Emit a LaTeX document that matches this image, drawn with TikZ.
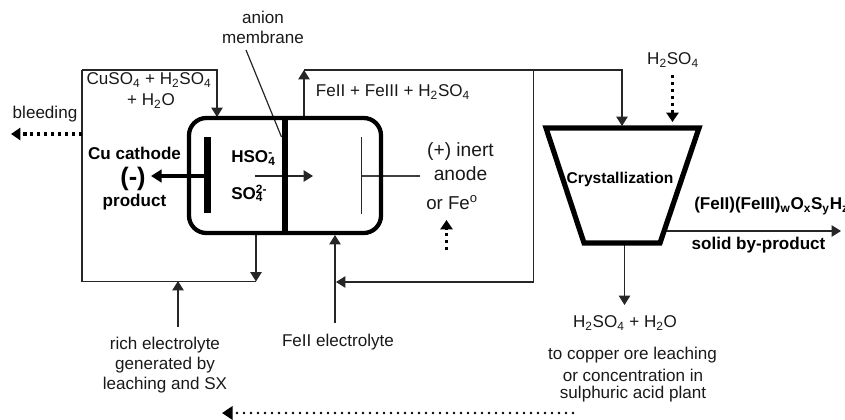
\documentclass[tikz,border=0pt]{standalone}
\usepackage{fontspec}
\setmainfont{Liberation Sans}
\usetikzlibrary{arrows.meta}
\newcommand{\subs}[1]{\textsubscript{#1}}
\newcommand{\ion}[3]{#1\rlap{\textsuperscript{#2}}\subs{#3}}
\tikzset{
  x=0.75pt,y=-0.75pt,
  lab/.style={font=\fontsize{12.8}{15.2}\selectfont,align=center,inner sep=0pt,text=black!90},
  biglab/.style={font=\fontsize{14.4}{16}\selectfont,align=center,inner sep=0pt,text=black!90},
  blab/.style={font=\fontsize{12.8}{15.2}\selectfont\bfseries,align=center,inner sep=0pt},
  flow/.style={draw=black!85,line width=0.9pt,-{Triangle[length=7pt,width=8.5pt]}},
  pipe/.style={draw=black!85,line width=0.9pt},
  dotflow/.style={draw=black,line width=2.6pt,dash pattern=on 2.6pt off 2.6pt,-{Triangle[length=7pt,width=9pt]}},
  rounddots/.style={draw=black,line width=2.2pt,line cap=round,dash pattern=on 0pt off 5.25pt,-{Triangle[length=8pt,width=10pt]}},
  vessel/.style={draw=black,line width=3.2pt},
  plate/.style={fill=black,draw=none,inner sep=0pt}
}
\begin{document}
\begin{tikzpicture}
\useasboundingbox (0,0) rectangle (845,419);
% coordinates
\coordinate (cellTL) at (189,118);
\coordinate (cellBR) at (381,233);
\coordinate (lt) at (82,70);
\coordinate (lb) at (82,281.5);
\coordinate (ltr) at (217,70);
\coordinate (ltrd) at (217,117);
\coordinate (rb) at (256,281.5);
\coordinate (rt) at (256,233);
\coordinate (o1) at (304,118);
\coordinate (o2) at (304,70);
\coordinate (o3) at (622,70);
\coordinate (o4) at (622,126);
\coordinate (v1) at (533.5,70);
\coordinate (v2) at (533.5,282);
\coordinate (v3) at (336,282);
\coordinate (f1) at (335,323);
\coordinate (f2) at (335,235);
\coordinate (r1) at (178,327);
\coordinate (r2) at (178,281);
\coordinate (b1) at (82,134);
\coordinate (b2) at (11,134);
\coordinate (h1) at (672.5,75);
\coordinate (h2) at (672.5,122);
\coordinate (u1) at (446.5,250);
\coordinate (u2) at (446.5,220);
\coordinate (d1) at (573,413);
\coordinate (d2) at (222,413);
\coordinate (c1) at (207,176);
\coordinate (c2) at (151,176);
\coordinate (i1) at (255,176);
\coordinate (i2) at (313,176);
\coordinate (a1) at (361.5,137);
\coordinate (a2) at (361.5,214);
\coordinate (a3) at (361.5,176);
\coordinate (a4) at (420,176);
\coordinate (m1) at (246,50);
\coordinate (m2) at (281.5,137);
\coordinate (t1) at (665,231);
\coordinate (t2) at (841,231);
\coordinate (e1) at (624.5,243);
\coordinate (e2) at (624.5,305);
% pipes
\draw[pipe] (lt) -- (lb) -- (rb);
\draw[flow] (lt) -- (ltr) -- (ltrd);
\draw[flow] (rt) -- (rb);
\draw[flow] (o1) -- (o2);
\draw[flow] (o2) -- (o3) -- (o4);
\draw[flow] (v1) -- (v2) -- (v3);
\draw[flow] (f1) -- (f2);
\draw[flow] (r1) -- (r2);
\draw[flow] (i1) -- (i2);
\draw[pipe] (m1) -- (m2);
\draw[pipe,line width=1.1pt,draw=black!75] (a3) -- (a4);
\draw[pipe] (a1) -- (a2);
\draw[flow] (t1) -- (t2);
\draw[flow] (e1) -- (e2);
\draw[dotflow] (b1) -- (b2);
\draw[dotflow] (h1) -- (h2);
\draw[dotflow] (u1) -- (u2);
\draw[rounddots] (d1) -- (d2);
\draw[draw=black,line width=2.4pt,-{Triangle[length=8pt,width=9.5pt]}] (c1) -- (c2);
% vessels
\draw[vessel,rounded corners=13pt] (cellTL) rectangle (cellBR);
\node[plate,minimum width=5.2pt,minimum height=86.25pt] (memb) at (285,175.5) {};
\node[plate,minimum width=5.2pt,minimum height=57pt] (cath) at (207.5,175) {};
\draw[draw=black,line width=3.9pt,line join=miter] (546,128) -- (699,128) -- (660,243) -- (584,243) -- cycle;
% labels
\node[lab] (anion) at (263,17) {anion};
\node[lab] (membrane) at (263,37) {membrane};
\node[lab] (feed) at (149,80) {CuSO\subs{4} + H\subs{2}SO\subs{4}};
\node[lab] (feed2) at (151,101) {+ H\subs{2}O};
\node[lab] (bleed) at (45,114.5) {bleeding};
\node[blab] (cu) at (134.5,153.5) {Cu cathode};
\node[font=\fontsize{19}{22}\bfseries\selectfont,inner sep=0pt] (minus) at (133,178.5) {(-)};
\node[blab] (prod) at (134.5,202) {product};
\node[blab,anchor=west] (hso) at (231,158) {\ion{HSO}{-}{4}};
\node[blab,anchor=west] (so) at (231,193.5) {\ion{SO}{2-}{4}};
\node[lab] (fes) at (393,92) {FeII + FeIII + H\subs{2}SO\subs{4}};
\node[biglab] (inert) at (460.5,152) {(+) inert};
\node[biglab] (anode) at (460.5,174) {anode};
\node[font=\fontsize{14}{16}\selectfont,inner sep=0pt,text=black!90] (orfe) at (452,202.5) {or Fe\textsuperscript{o}};
\node[lab] (hh) at (673,60) {H\subs{2}SO\subs{4}};
\node[font=\fontsize{11.7}{13}\bfseries\selectfont,inner sep=0pt] (cryst) at (620,179) {Crystallization};
\node[blab,anchor=west] (formula) at (694,206) {(FeII)(FeIII)\subs{w}O\subs{x}S\subs{y}H\subs{z}};
\node[blab] (solid) at (758.5,245.5) {solid by-product};
\node[lab] (wat) at (625,323) {H\subs{2}SO\subs{4} + H\subs{2}O};
\node[lab] (cop) at (632.5,355) {to copper ore leaching};
\node[lab] (con) at (633,375) {or concentration in};
\node[lab] (sul) at (633,394.5) {sulphuric acid plant};
\node[lab] (rich1) at (165,345) {rich electrolyte};
\node[lab] (rich2) at (165,365) {generated by};
\node[lab] (rich3) at (165,385) {leaching and SX};
\node[lab] (fe2) at (338,342) {FeII electrolyte};
\end{tikzpicture}
\end{document}
